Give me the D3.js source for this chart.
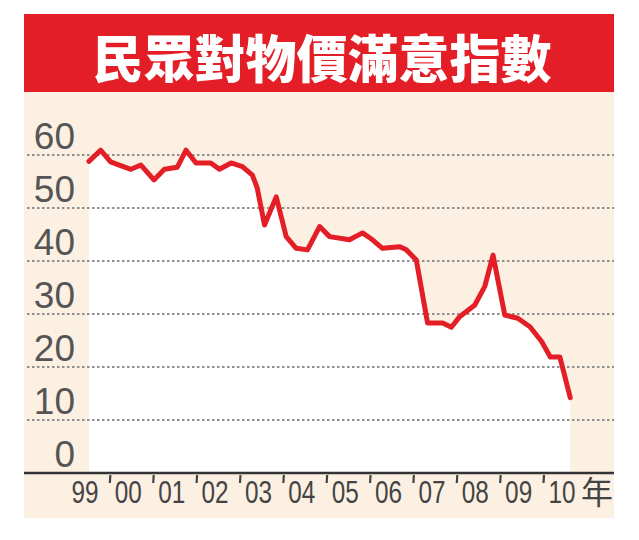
<!DOCTYPE html>
<html><head><meta charset="utf-8">
<script src="https://cdn.jsdelivr.net/npm/d3@7"></script>
<style>html,body{margin:0;padding:0;background:#fff;}svg{display:block;}</style>
</head><body>
<script>
const title = "民眾對物價滿意指數";
const yTicks = [0, 10, 20, 30, 40, 50, 60];
const yearTicks = [1999, 2000, 2001, 2002, 2003, 2004, 2005, 2006, 2007, 2008, 2009, 2010];
const yearLabels = ["99", "00", "01", "02", "03", "04", "05", "06", "07", "08", "09", "10"];
const yearUnit = "年";
const dates = [1999.09,1999.36,1999.59,1999.79,2000.06,2000.29,2000.59,2000.83,2001.13,2001.33,
  2001.56,2001.90,2002.10,2002.37,2002.63,2002.86,2002.97,2003.14,2003.41,2003.64,
  2003.87,2004.13,2004.41,2004.64,2005.10,2005.40,2005.63,2005.86,2006.26,2006.41,
  2006.64,2006.90,2007.25,2007.45,2007.64,2007.99,2008.22,2008.41,2008.68,2008.98,
  2009.26,2009.53,2009.73,2009.95,2010.19];
const values = [58.8,60.9,58.7,58.1,57.3,58.1,55.3,57.3,57.7,60.9,
  58.5,58.5,57.3,58.5,57.8,56.2,53.8,46.8,52.1,44.6,
  42.4,42.1,46.5,44.6,44.0,45.3,44.0,42.4,42.7,42.1,
  40.2,28.3,28.3,27.5,29.5,31.7,35.2,41.1,29.8,29.2,
  27.6,24.8,21.9,21.9,14.2];

const W = 639, H = 540;
const svg = d3.select("body").append("svg").attr("width", W).attr("height", H);
const cream = "#fcf0e2", red = "#e41e26", gray = "#555";

// background panel
svg.append("rect").attr("x", 24).attr("y", 92).attr("width", 590).attr("height", 426).attr("fill", cream);
// banner
svg.append("rect").attr("x", 24).attr("y", 14).attr("width", 590).attr("height", 78).attr("fill", red);
svg.append("text").attr("x", 322).attr("y", 56)
  .attr("text-anchor", "middle").attr("dominant-baseline", "central")
  .attr("font-family", "'Noto Sans CJK TC', 'Noto Sans CJK SC', sans-serif")
  .attr("font-weight", 900).attr("font-size", 51).attr("fill", "#fff")
  .text(title);

const x = d3.scaleLinear().domain([1999, 2010]).range([85, 562]);
const y = d3.scaleLinear().domain([0, 60]).range([473, 155]);
const data = dates.map((d, i) => ({d, v: values[i]}));

// white area under the line
svg.append("path").datum(data)
  .attr("d", d3.area().x(p => x(p.d)).y0(y(0)).y1(p => y(p.v)))
  .attr("fill", "#fff");

// gridlines
svg.selectAll("line.grid").data(yTicks.filter(t => t > 0)).join("line")
  .attr("x1", 27).attr("x2", 614)
  .attr("y1", t => y(t)).attr("y2", t => y(t))
  .attr("stroke", "#8f8f8f").attr("stroke-width", 2.2)
  .attr("stroke-dasharray", "2.5,2.5");

// y labels
svg.selectAll("text.ylab").data(yTicks).join("text")
  .attr("x", 75).attr("y", t => y(t) - 6)
  .attr("text-anchor", "end")
  .attr("font-family", "'Liberation Sans', Arial, sans-serif")
  .attr("font-size", 37).attr("fill", gray)
  .text(t => t);

// baseline axis
svg.append("line").attr("x1", 24).attr("x2", 614).attr("y1", y(0)).attr("y2", y(0))
  .attr("stroke", "#333").attr("stroke-width", 2.5);

// x labels
const xg = svg.append("g");
yearTicks.forEach((yr, i) => {
  const cx = x(yr);
  xg.append("text")
    .attr("transform", `translate(${cx},503) scale(0.76,1)`)
    .attr("text-anchor", "middle")
    .attr("font-family", "'Liberation Sans', Arial, sans-serif")
    .attr("font-size", 32).attr("fill", "#444")
    .text(yearLabels[i]);
  if (i > 0) {
    xg.append("line")
      .attr("x1", cx - 18).attr("x2", cx - 18.5)
      .attr("y1", 475).attr("y2", 483)
      .attr("stroke", "#444").attr("stroke-width", 2.2);
  }
});
xg.append("text")
  .attr("x", 581).attr("y", 504)
  .attr("font-family", "'Noto Sans CJK TC', sans-serif")
  .attr("font-size", 32).attr("fill", "#444")
  .text(yearUnit);

// red line
svg.append("path").datum(data)
  .attr("d", d3.line().x(p => x(p.d)).y(p => y(p.v)))
  .attr("fill", "none").attr("stroke", red).attr("stroke-width", 5)
  .attr("stroke-linejoin", "round").attr("stroke-linecap", "round");
</script>
</body></html>
